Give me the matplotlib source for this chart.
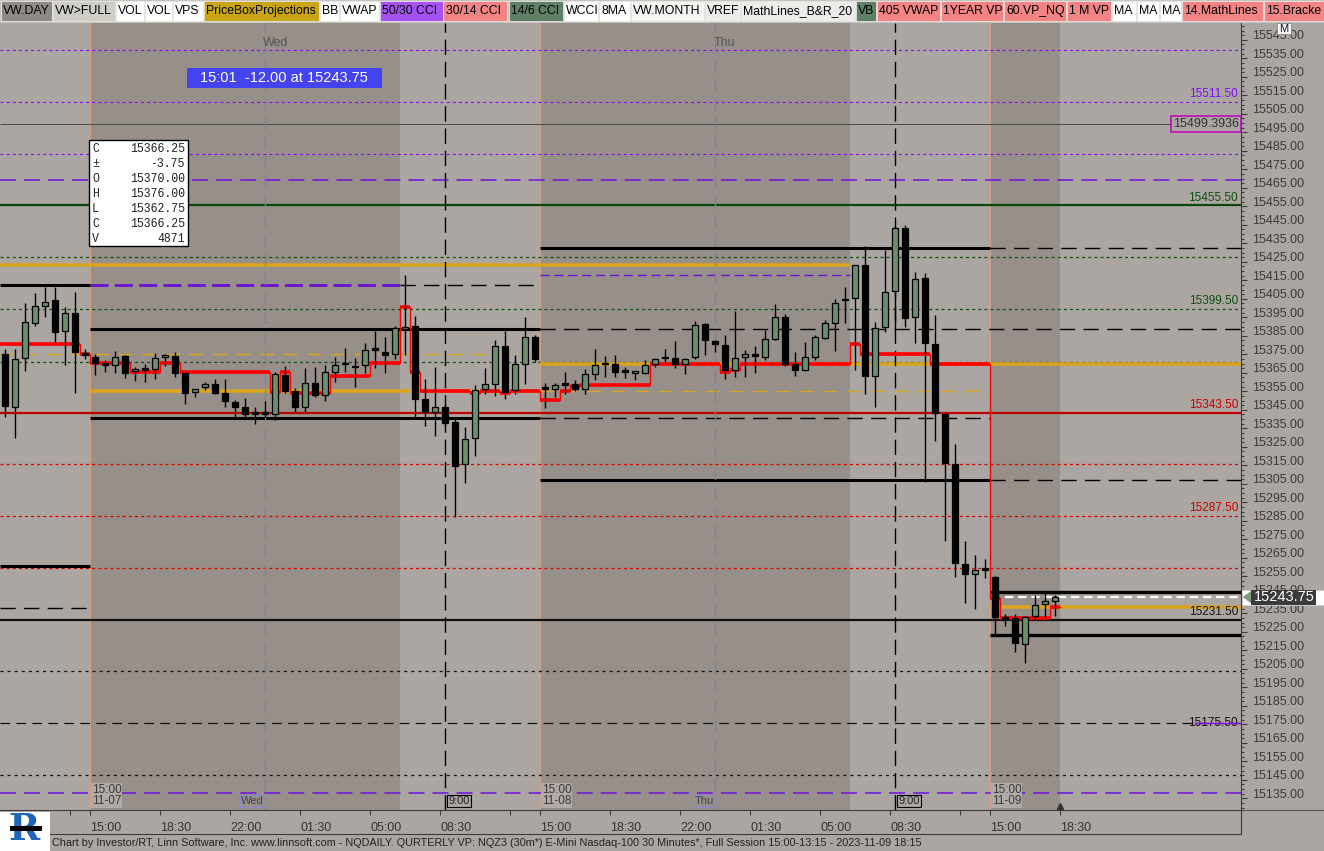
import numpy as np
import matplotlib
matplotlib.use("Agg")
import matplotlib.pyplot as plt
import matplotlib.transforms as mtransforms
from matplotlib.patches import Rectangle, Polygon
from matplotlib.lines import Line2D

plt.rcParams['font.family'] = ['Liberation Sans', 'DejaVu Sans']
plt.rcParams['lines.scale_dashes'] = False

W, H = 1324, 851

# 30 minute bars, index 0 = 15:00 of the 11-07 session (45 bars per session)
bar_idx = np.arange(-9, 97)
opens = [15375.0, 15346.75, 15373.25, 15392.0, 15401.25, 15404.25, 15387.75, 15397.25, 15375.0,
         15373.5, 15370.25, 15369.0, 15374.0, 15366.0, 15366.5, 15367.0, 15373.5, 15374.0, 15364.75,
         15354.5, 15357.25, 15358.75, 15354.0, 15349.0, 15346.5, 15343.0, 15343.0, 15343.0, 15363.75,
         15355.25, 15346.75, 15359.25, 15353.0, 15365.5, 15369.5, 15368.75, 15369.0, 15377.5, 15376.0,
         15375.0, 15388.75, 15390.25, 15350.75, 15344.0, 15346.25, 15338.5, 15315.5, 15330.0, 15356.5,
         15359.0, 15379.75, 15355.5, 15370.0, 15384.25,
         15356.5, 15356.5, 15358.5, 15359.0, 15356.5, 15364.25, 15369.5, 15370.0, 15365.5, 15365.0,
         15365.0, 15370.0, 15372.75, 15372.75, 15369.5, 15373.5, 15391.5, 15382.25, 15380.0, 15366.5,
         15373.5, 15375.0, 15373.75, 15383.5, 15395.0, 15370.0, 15366.25, 15373.75, 15384.0, 15391.75,
         15404.75, 15405.25, 15423.0, 15363.5, 15389.5, 15409.0, 15443.5, 15395.0, 15416.0, 15380.5,
         15342.75, 15315.5, 15261.5, 15256.5, 15258.5,
         15254.5, 15233.25, 15232.25, 15218.25, 15233.5, 15240.0, 15241.75]
highs = [15378.0, 15377.75, 15402.5, 15408.0, 15411.5, 15411.5, 15400.75, 15408.75, 15377.75,
         15375.0, 15372.0, 15376.75, 15374.75, 15368.0, 15369.75, 15375.5, 15375.25, 15376.25, 15365.5,
         15356.5, 15360.0, 15361.75, 15361.75, 15350.25, 15351.5, 15346.75, 15349.75, 15365.5, 15368.75,
         15357.0, 15367.5, 15368.0, 15369.25, 15373.5, 15378.25, 15372.75, 15381.0, 15387.75, 15384.25,
         15390.25, 15417.75, 15395.75, 15361.5, 15368.0, 15348.0, 15340.0, 15335.75, 15358.5, 15367.5,
         15383.0, 15387.75, 15374.5, 15395.0, 15385.5,
         15359.25, 15359.25, 15365.5, 15361.0, 15367.0, 15377.75, 15374.0, 15374.5, 15368.25, 15365.5,
         15372.0, 15372.75, 15377.75, 15382.25, 15372.75, 15393.0, 15392.0, 15382.5, 15385.5, 15398.5,
         15377.25, 15379.5, 15388.0, 15402.25, 15397.0, 15376.0, 15381.5, 15385.5, 15393.5, 15405.0,
         15411.25, 15423.5, 15433.5, 15392.5, 15431.5, 15444.5, 15445.0, 15419.75, 15418.75, 15396.5,
         15343.0, 15326.5, 15274.0, 15266.5, 15264.25,
         15255.0, 15234.5, 15234.5, 15233.5, 15245.0, 15245.75, 15245.0]
lows = [15341.0, 15330.0, 15366.0, 15390.5, 15395.25, 15381.25, 15369.25, 15354.25, 15372.25,
        15363.75, 15365.5, 15365.0, 15362.0, 15360.75, 15360.25, 15361.5, 15368.75, 15362.5, 15348.25,
        15352.0, 15355.5, 15353.5, 15346.75, 15341.25, 15341.25, 15337.25, 15341.25, 15339.25, 15354.0,
        15344.0, 15344.0, 15351.75, 15349.5, 15360.25, 15365.5, 15357.5, 15364.75, 15367.5, 15364.75,
        15372.25, 15374.5, 15341.25, 15336.0, 15331.0, 15336.0, 15287.25, 15305.5, 15320.25, 15353.5,
        15352.5, 15351.0, 15353.75, 15359.0, 15370.75,
        15345.75, 15351.75, 15353.5, 15355.25, 15353.5, 15361.0, 15363.0, 15363.0, 15362.0, 15361.0,
        15364.5, 15368.25, 15370.5, 15367.75, 15364.25, 15372.25, 15374.5, 15376.5, 15361.75, 15363.0,
        15363.0, 15365.0, 15372.0, 15382.5, 15368.75, 15363.25, 15366.0, 15372.0, 15383.25, 15377.0,
        15391.75, 15366.25, 15353.5, 15346.75, 15387.25, 15388.0, 15390.0, 15381.25, 15305.75, 15328.25,
        15274.25, 15254.75, 15240.5, 15237.25, 15254.0,
        15223.25, 15228.0, 15214.25, 15208.0, 15231.75, 15233.25, 15233.5]
closes = [15347.25, 15372.5, 15392.5, 15401.0, 15403.5, 15387.25, 15397.25, 15376.0, 15374.75,
          15370.5, 15369.0, 15373.75, 15365.0, 15366.25, 15366.5, 15372.75, 15374.5, 15365.0, 15354.25,
          15356.0, 15358.75, 15354.25, 15349.5, 15346.25, 15342.5, 15342.75, 15343.0, 15364.25, 15355.25,
          15346.75, 15359.25, 15352.75, 15365.25, 15369.0, 15369.75, 15368.0, 15377.25, 15377.5, 15374.75,
          15389.0, 15390.0, 15351.0, 15344.0, 15346.25, 15338.0, 15314.75, 15329.0, 15355.5, 15358.75,
          15379.75, 15354.75, 15370.0, 15384.25, 15372.5,
          15356.5, 15358.25, 15358.5, 15356.5, 15364.25, 15369.0, 15369.5, 15365.5, 15365.5, 15365.25,
          15369.0, 15372.25, 15372.75, 15369.5, 15372.25, 15390.75, 15382.5, 15380.5, 15366.5, 15372.75,
          15375.0, 15374.0, 15383.5, 15395.0, 15370.0, 15366.5, 15373.5, 15384.25, 15391.75, 15403.0,
          15404.25, 15423.0, 15363.5, 15389.0, 15408.5, 15443.0, 15394.75, 15415.5, 15381.0, 15343.5,
          15316.0, 15262.0, 15256.5, 15258.5, 15258.5,
          15232.75, 15231.75, 15218.75, 15232.75, 15239.25, 15241.75, 15243.75]

# red step study: (value, number of bars) runs starting at bar -9
step_runs = [(15380.5, 8), (15375.0, 1), (15370.25, 4), (15365.25, 3), (15370.25, 2), (15365.25, 9),
             (15354.5, 1), (15365.25, 1), (15354.0, 4), (15363.25, 4), (15370.25, 3), (15400.5, 1),
             (15365.5, 1), (15355.25, 5), (15354.25, 1), (15355.25, 2), (15354.25, 1), (15355.25, 3),
             (15350.25, 2), (15355.0, 1), (15358.0, 1), (15358.5, 7), (15370.0, 7), (15365.25, 1),
             (15366.5, 1), (15370.0, 11), (15380.5, 1), (15375.25, 7), (15370.0, 6),
             (15243.5, 1), (15232.25, 5), (15238.25, 1)]

# horizontal study levels
purple_dotted = [15539.5, 15511.5, 15483.0]
purple_dashed = [15469.0, 15137.75]
level_1y_vwap = 15499.3936
dkgreen_solid = 15455.5
dkgreen_dotted = [15427.5, 15399.5, 15371.0]
red_solid = 15343.5
red_dotted = [15315.5, 15287.5, 15259.25]
black_full = 15231.5
black_dotted = [15203.75, 15147.75]
black_dashed = 15175.5
last_price = 15243.75

right_labels = [(15511.5, '15511.50', '#7a10e8'), (15455.5, '15455.50', '#0d4d0d'),
                (15399.5, '15399.50', '#0d4d0d'), (15343.5, '15343.50', '#c80000'),
                (15287.5, '15287.50', '#c80000'), (15231.5, '15231.50', '#111111')]

time_bars = [0, 7, 14, 21, 28, 35, 45, 52, 59, 66, 73, 80, 90, 97]
time_labels = ['15:00', '18:30', '22:00', '01:30', '05:00', '08:30',
               '15:00', '18:30', '22:00', '01:30', '05:00', '08:30', '15:00', '18:30']

toolbar_labels = ["VW.DAY", "VW>FULL", "VOL", "VOL", "VPS", "PriceBoxProjections", "BB", "VWAP",
                  "50/30 CCI", "30/14 CCI", "14/6 CCI", "WCCI", "8MA", "VW.MONTH", "VREF",
                  "MathLines_B&R_20", "VB", "405 VWAP", "1YEAR VP", "60.VP_NQ", "1 M VP",
                  "MA", "MA", "MA", "14.MathLines", "15.Bracke"]
toolbar_colors = ['#8e8a86', '#cfcec6', '#ffffff', '#ffffff', '#ffffff', '#c9a514', '#ffffff', '#ffffff',
                  '#a452f4', '#f48484', '#5f8066', '#ffffff', '#ffffff', '#f4f4f2', '#ececea',
                  '#ececea', '#5f8066', '#f48484', '#f48484', '#f48484', '#f48484',
                  '#ffffff', '#ffffff', '#ffffff', '#f48484', '#f48484']
toolbar_edges = [0, 52, 115, 144, 172, 203, 319, 339, 379, 443, 508, 563, 598, 630, 704, 740,
                 855, 876, 940, 1003, 1066, 1111, 1136, 1159, 1181, 1263, 1345]

box_rows = [('C', '15366.25'), ('±', '-3.75'), ('O', '15370.00'), ('H', '15376.00'),
            ('L', '15362.75'), ('C', '15366.25'), ('V', '4871')]

# session layout in bar units
S1, S2, S3 = -0.5, 44.5, 89.5
RTH1, RTH2 = 30.5, 75.5
LAST = 96.5
XL, XR = -9.5, 114.6

LIGHT = '#aba6a2'
DARK = '#978f89'
GOLD = '#d9a41e'
PURPLE = '#8010f0'

fig = plt.figure(figsize=(W / 100, H / 100), dpi=100, facecolor=LIGHT)
ax = fig.add_axes([0, 1 - 810 / H, 1241 / W, (810 - 23) / H])
ax.set_facecolor(LIGHT)
ax.set_xlim(XL, XR)
ax.set_ylim(15128.7, 15554.07)

# overnight shading
ax.axvspan(S1, RTH1, color=DARK, lw=0, zorder=0)
ax.axvspan(S2, RTH2, color=DARK, lw=0, zorder=0)
ax.axvspan(S3, LAST, color=DARK, lw=0, zorder=0)
for s in (S1, S2, S3):
    ax.axvline(s, color='#d0a080', lw=0.8, zorder=0.5)


def seg(y, x0, x1, **kw):
    ax.plot([x0, x1], [y, y], solid_capstyle='butt', dash_capstyle='butt', **kw)


DOT = (0, (2.2, 2.2))
for y in purple_dotted:
    seg(y, XL, XR, color=PURPLE, lw=0.8, ls=DOT, zorder=1)
for y in purple_dashed:
    seg(y, XL, XR, color='#7010e0', lw=1.1, ls=(0, (11.5, 5.8)), zorder=1)
seg(level_1y_vwap, XL, XR, color='#4a4a4a', lw=0.7, zorder=1)
seg(dkgreen_solid, XL, XR, color='#0b470b', lw=1.6, zorder=1)
for y in dkgreen_dotted:
    seg(y, XL, XR, color='#124f12', lw=0.9, ls=DOT, zorder=1)
seg(red_solid, XL, XR, color='#c00000', lw=1.6, zorder=1)
for y in red_dotted:
    seg(y, XL, XR, color='#dd0000', lw=0.9, ls=DOT, zorder=1)
seg(black_full, XL, XR, color='#111111', lw=1.6, zorder=1)
for y in black_dotted:
    seg(y, XL, XR, color='#111111', lw=0.9, ls=(0, (2.2, 2.9)), zorder=1)
seg(black_dashed, XL, XR, color='#111111', lw=0.9, ls=(0, (7, 4.5)), zorder=1)

# gold bands
seg(15423.25, XL, RTH2, color=GOLD, lw=2.6, zorder=1.2)
seg(15370.0, S2, XR, color=GOLD, lw=2.6, zorder=1.2)
seg(15355.0, S1, S2, color=GOLD, lw=2.6, zorder=1.2)
seg(15238.25, S3, XR, color=GOLD, lw=2.6, zorder=1.2)
seg(15375.0, XL, S2, color=GOLD, lw=1.0, ls=(0, (10, 7)), zorder=1.2)
seg(15355.0, S2, S3, color=GOLD, lw=1.0, ls=(0, (10, 7)), zorder=1.2)

# purple dashed segments
seg(15412.5, S1, RTH1, color='#6a10d8', lw=2.0, ls=(0, (13, 4.5)), zorder=1.3)
seg(15417.75, S2, RTH2, color='#6a10d8', lw=1.0, ls=(0, (6.5, 3.5)), zorder=1.3)

# black range lines, solid in their own session and dashed afterwards
LD = (0, (11, 6))
seg(15412.5, XL, S1, color='black', lw=2.2, zorder=1.4)
seg(15412.5, RTH1, S2, color='black', lw=1.0, ls=LD, zorder=1.4)
seg(15388.5, S1, S2, color='black', lw=2.2, zorder=1.4)
seg(15388.5, S2, XR, color='black', lw=1.0, ls=LD, zorder=1.4)
seg(15340.5, S1, S2, color='black', lw=2.2, zorder=1.4)
seg(15340.5, S2, S3, color='black', lw=1.0, ls=LD, zorder=1.4)
seg(15432.25, S2, S3, color='black', lw=2.2, zorder=1.4)
seg(15432.25, S3, XR, color='black', lw=1.0, ls=LD, zorder=1.4)
seg(15307.0, S2, S3, color='black', lw=2.2, zorder=1.4)
seg(15307.0, S3, XR, color='black', lw=1.0, ls=LD, zorder=1.4)
seg(15260.5, XL, S1, color='black', lw=2.2, zorder=1.4)
seg(15238.0, XL, S1, color='black', lw=1.0, ls=LD, zorder=1.4)
seg(15246.5, S3, XR, color='black', lw=2.4, zorder=1.4)
seg(15223.25, S3, XR, color='black', lw=2.4, zorder=1.4)
seg(last_price, 91, XR, color='white', lw=1.6, ls=(0, (6, 3.5)), zorder=1.5)

# day and 9:00 markers
for xv in (17.0, 62.0):
    ax.axvline(xv, color='#7c7cc0', lw=0.9, ls=(0, (9, 5)), zorder=1.6)
for xv in (35.0, 80.0):
    ax.axvline(xv, color='black', lw=1.0, ls=(0, (11, 5)), zorder=1.6)

# red step study
step_vals = np.repeat([v for v, n in step_runs], [n for v, n in step_runs])
ax.hlines(step_vals, bar_idx - 0.5, bar_idx + 0.5, colors='#ff0000', lw=2.6, zorder=3)
ax.step(np.append(bar_idx - 0.5, bar_idx[-1] + 0.5), np.append(step_vals, step_vals[-1]),
        where='post', color='#ff0000', lw=1.0, zorder=3)

# candles
o = np.array(opens); h = np.array(highs); l = np.array(lows); c = np.array(closes)
up = c > o
ax.vlines(bar_idx, l, h, color='black', lw=1.0, zorder=4)
body_h = np.maximum(np.abs(c - o), 0.9)
body_b = np.minimum(o, c)
ax.bar(bar_idx[up], body_h[up], bottom=body_b[up], width=0.6, color='#6c8f6c',
       edgecolor='black', lw=0.9, zorder=5)
ax.bar(bar_idx[~up], body_h[~up], bottom=body_b[~up], width=0.6, color='black',
       edgecolor='black', lw=0.9, zorder=5)

# axes styling
for sp in ('top', 'left'):
    ax.spines[sp].set_visible(False)
ax.spines['right'].set_color('#3c3c3c')
ax.spines['bottom'].set_color('#3c3c3c')
ax.yaxis.tick_right()
ax.set_yticks(np.arange(15135, 15546, 10))
ax.set_yticklabels(['%.2f' % v for v in np.arange(15135, 15546, 10)])
ax.set_yticks(np.arange(15130, 15555, 2.5), minor=True)
ax.tick_params(axis='y', which='major', length=4.5, width=0.8, color='#3c3c3c', pad=3.5,
               labelsize=9, labelcolor='#3a3a3a')
ax.tick_params(axis='y', which='minor', length=2.3, width=0.8, color='#3c3c3c')
off = mtransforms.ScaledTranslation(0, 5 / 100, fig.dpi_scale_trans)
for lbl in ax.get_yticklabels():
    lbl.set_transform(lbl.get_transform() + off)

ax.set_xticks([b - 0.5 for b in time_bars])
ax.set_xticklabels(time_labels, ha='left')
ax.tick_params(axis='x', length=3.5, width=0.8, color='#3c3c3c', pad=5, labelsize=9,
               labelcolor='#333333')
ax.set_xticks([-2.5, 41.5, 86.5], minor=True)
ax.tick_params(axis='x', which='minor', length=3.5, width=0.8, color='#3c3c3c')

# level labels on the right side of the plot
for y, s, col in right_labels:
    ax.text(114.3, y + 1.0, s, color=col, fontsize=8.5, ha='right', va='bottom', zorder=6)
ax.text(114.3, black_dashed, '15175.50', color='#111111', fontsize=8.5, ha='right', va='center',
        zorder=6)
ax.plot([110.0, 114.5], [black_dashed, black_dashed], color=PURPLE, lw=1.0, zorder=7)
ax.text(114.4, level_1y_vwap, '15499.3936', color='#333333', fontsize=9, ha='right', va='center',
        zorder=6, bbox=dict(boxstyle='square,pad=0.15', fc=LIGHT, ec='#c000c0', lw=1.1))

# day names and session dates inside the plot
ax.text(18.1, 15543.5, 'Wed', color='#555555', fontsize=9, ha='center', va='center')
ax.text(62.9, 15543.5, 'Thu', color='#555555', fontsize=9, ha='center', va='center')
for xs, d in ((S1, '11-07'), (S2, '11-08'), (S3, '11-09')):
    ax.text(xs + 0.2, 15136.5, '15:00\n' + d, color='#3a3a3a', fontsize=8.5, ha='left', va='center',
            linespacing=0.95, zorder=6, bbox=dict(boxstyle='square,pad=0.05', fc='#b0aba7', ec='none'))
for xv, d in ((17.0, 'Wed'), (62.0, 'Thu')):
    ax.text(xv - 0.1, 15133.5, d, color='#444444', fontsize=8, ha='right', va='center', zorder=6,
            bbox=dict(boxstyle='square,pad=0.12', fc='none', ec='#8a8acc', lw=0.8))
for xv in (35.0, 80.0):
    ax.text(xv + 0.3, 15133.5, '9:00', color='#222222', fontsize=8, ha='left', va='center', zorder=6,
            bbox=dict(boxstyle='square,pad=0.12', fc='none', ec='black', lw=0.8))
ax.plot([LAST], [15131.0], marker='^', ms=4, color='#333333', zorder=6, clip_on=False)


# ---------- figure level decorations (pixel helpers) ----------
def frect(x0, y0, x1, y1, z=2, **kw):
    fig.patches.append(Rectangle((x0 / W, 1 - y1 / H), (x1 - x0) / W, (y1 - y0) / H,
                                 transform=fig.transFigure, zorder=z, **kw))


def ftext(x, y, s, **kw):
    fig.text(x / W, 1 - y / H, s, **kw)


def fline(xs, ys, **kw):
    fig.lines.append(Line2D([x / W for x in xs], [1 - y / H for y in ys],
                            transform=fig.transFigure, **kw))


# toolbar
frect(0, 0, W, 23, fc='#c7c3bd', ec='none', z=1.5)
for i, lab in enumerate(toolbar_labels):
    x0, x1 = toolbar_edges[i], toolbar_edges[i + 1]
    frect(x0 + 0.5, 1, x1 - 0.5, 21, fc=toolbar_colors[i], ec='#e6e6e6', lw=0.6, z=2)
    ftext(x0 + 3, 11, lab, fontsize=8.8, color='black', va='center', ha='left', zorder=3)
frect(1277, 23, 1291, 34, fc='#f4f4f4', ec='#888888', lw=0.6, z=2)
ftext(1284, 28.5, 'M', fontsize=8, ha='center', va='center', color='#111133', zorder=3)

# blue readout
frect(187, 68, 382, 88, fc='#4343f0', ec='none', z=2)
ftext(284, 78, '15:01  -12.00 at 15243.75', fontsize=10.5, color='white', ha='center', va='center',
      zorder=3)

# data window
frect(89, 140, 188, 246, fc='white', ec='black', lw=1.0, z=2)
for k, (a, b) in enumerate(box_rows):
    yy = 149.3 + 15 * k
    ftext(92, yy, a, fontsize=8.3, family='Liberation Mono', color='#222222', va='center', zorder=3)
    ftext(185, yy, b, fontsize=8.3, family='Liberation Mono', color='#222222', va='center',
          ha='right', zorder=3)

# last price tag on the price axis
py = 810 - (last_price - 15128.7) / (15554.07 - 15128.7) * (810 - 23)
frect(1242, py - 7.5, W, py + 7.5, fc='white', ec='#cccccc', lw=0.6, z=2)
frect(1251, py - 7.5, 1316, py + 7.5, fc='#3b3b3b', ec='none', z=2.1)
fig.patches.append(Polygon([(1242.5 / W, 1 - py / H), (1251 / W, 1 - (py - 6) / H),
                            (1251 / W, 1 - (py + 6) / H)], closed=True, transform=fig.transFigure,
                           fc='#7f9a7f', ec='none', zorder=2.2))
ftext(1284, py, '%.2f' % last_price, fontsize=10.5, color='white', ha='center', va='center', zorder=3)

# time axis box and footer
fline([1241, W], [810, 810], color='#555555', lw=0.8)
fline([0, 1241], [833.5, 833.5], color='#3c3c3c', lw=0.8)
fline([1241, 1241], [810, 833.5], color='#3c3c3c', lw=0.8)
frect(0, 812, 50, H, fc='white', ec='none', z=2)
ftext(24, 830, 'R', fontsize=27, fontweight='bold', family='DejaVu Serif', color='#1f66b8',
      ha='center', va='center', zorder=3)
frect(10, 826, 42, 831, fc='black', ec='none', z=3.5)
ftext(52, 843.5, 'Chart by Investor/RT, Linn Software, Inc. www.linnsoft.com - NQDAILY. QURTERLY VP: '
      'NQZ3 (30m*) E-Mini Nasdaq-100 30 Minutes*, Full Session 15:00-13:15 - 2023-11-09 18:15',
      fontsize=7.8, color='#222222', va='center', ha='left')

fig.savefig('out.png', dpi=100, facecolor=LIGHT)
